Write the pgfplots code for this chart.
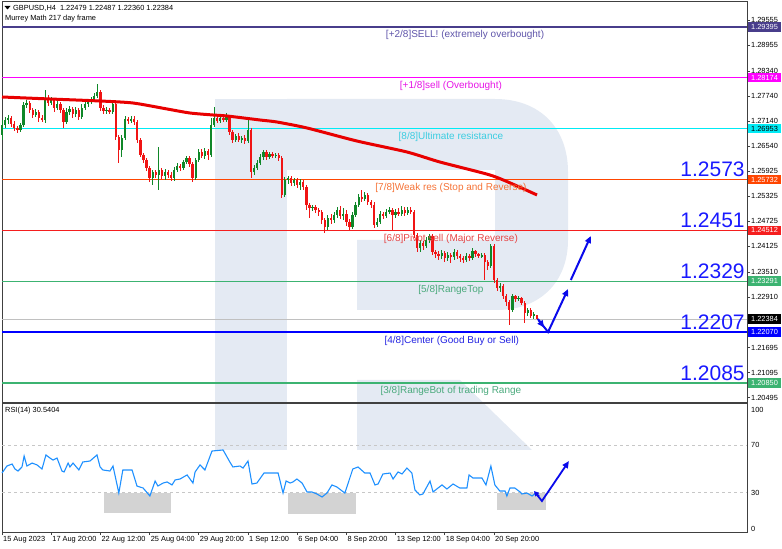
\documentclass[border=0pt]{standalone}
\usepackage{pgfplots}
\usepackage{pgfplotstable}
\pgfplotsset{compat=1.18}
\usepackage{fontspec}
\setmainfont{Liberation Sans}
\usetikzlibrary{arrows.meta}

\definecolor{wm}{RGB}{228,234,243}
\definecolor{bull}{RGB}{15,135,40}
\definecolor{bear}{RGB}{240,20,20}
\definecolor{ma}{RGB}{232,0,0}
\definecolor{mmA}{RGB}{72,61,139}
\definecolor{mmAt}{RGB}{95,85,170}
\definecolor{mmB}{RGB}{255,0,255}
\definecolor{mmBt}{RGB}{230,20,230}
\definecolor{mmC}{RGB}{0,235,245}
\definecolor{mmCt}{RGB}{60,205,225}
\definecolor{mmD}{RGB}{255,69,0}
\definecolor{mmDt}{RGB}{245,115,55}
\definecolor{mmE}{RGB}{245,30,30}
\definecolor{mmEt}{RGB}{230,70,70}
\definecolor{mmF}{RGB}{60,179,113}
\definecolor{mmFt}{RGB}{75,170,125}
\definecolor{mmG}{RGB}{0,0,255}
\definecolor{mmGt}{RGB}{35,35,225}
\definecolor{bigblue}{RGB}{25,25,255}
\definecolor{rsiblue}{RGB}{30,144,255}
\definecolor{zone}{RGB}{211,211,211}
\definecolor{arrowblue}{RGB}{10,10,235}
\definecolor{cur}{RGB}{192,192,192}

\newcommand{\fsmall}{\fontsize{7.4}{8.5}\selectfont}
\newcommand{\fmm}{\fontsize{10}{12}\selectfont}
\newcommand{\fbig}{\fontsize{21}{24}\selectfont}

\pgfplotstableread{
i o h l c
0 1.26800 1.27160 1.26680 1.27040
1 1.27040 1.27232 1.26968 1.27160
2 1.27160 1.27280 1.27064 1.27208
3 1.27208 1.27256 1.26992 1.27064
4 1.27064 1.27136 1.26896 1.26968
5 1.26968 1.27016 1.26848 1.26920
6 1.26920 1.27088 1.26872 1.27040
7 1.27040 1.27592 1.26992 1.27520
8 1.27520 1.27640 1.27448 1.27568
9 1.27568 1.27616 1.27328 1.27400
10 1.27400 1.27448 1.27208 1.27280
11 1.27280 1.27424 1.27232 1.27352
12 1.27352 1.27400 1.27112 1.27208
13 1.27208 1.27280 1.27112 1.27160
14 1.27160 1.27880 1.27088 1.27688
15 1.27688 1.27760 1.27496 1.27568
16 1.27568 1.27712 1.27520 1.27640
17 1.27640 1.27688 1.27352 1.27448
18 1.27448 1.27616 1.27400 1.27544
19 1.27544 1.27592 1.27328 1.27400
20 1.27400 1.27448 1.26968 1.27112
21 1.27112 1.27448 1.27064 1.27352
22 1.27352 1.27496 1.27280 1.27424
23 1.27424 1.27472 1.27208 1.27304
24 1.27304 1.27472 1.27232 1.27400
25 1.27400 1.27448 1.27160 1.27232
26 1.27232 1.27544 1.27184 1.27448
27 1.27448 1.27616 1.27400 1.27544
28 1.27544 1.27664 1.27472 1.27592
29 1.27592 1.27712 1.27544 1.27640
30 1.27640 1.27808 1.27592 1.27736
31 1.27736 1.28024 1.27688 1.27832
32 1.27832 1.27880 1.27376 1.27448
33 1.27448 1.27520 1.27304 1.27376
34 1.27376 1.27472 1.27304 1.27400
35 1.27400 1.27448 1.27304 1.27352
36 1.27352 1.27616 1.27304 1.27544
37 1.27544 1.27592 1.26680 1.26752
38 1.26752 1.26800 1.26128 1.26440
39 1.26440 1.26800 1.26272 1.26728
40 1.26728 1.27256 1.26680 1.27184
41 1.27184 1.27232 1.27064 1.27136
42 1.27136 1.27256 1.27088 1.27184
43 1.27184 1.27256 1.27040 1.27112
44 1.27112 1.27160 1.26608 1.26680
45 1.26680 1.26728 1.26272 1.26320
46 1.26320 1.26368 1.26128 1.26200
47 1.26200 1.26248 1.25936 1.26008
48 1.26008 1.26056 1.25672 1.25768
49 1.25768 1.25960 1.25600 1.25912
50 1.25912 1.25960 1.25768 1.25840
51 1.25840 1.26512 1.25480 1.25960
52 1.25960 1.26008 1.25744 1.25816
53 1.25816 1.25984 1.25720 1.25912
54 1.25912 1.25960 1.25768 1.25840
55 1.25840 1.25912 1.25696 1.25768
56 1.25768 1.26032 1.25696 1.25960
57 1.25960 1.26128 1.25912 1.26056
58 1.26056 1.26104 1.25936 1.26008
59 1.26008 1.26200 1.25960 1.26152
60 1.26152 1.26296 1.26104 1.26248
61 1.26248 1.26296 1.26032 1.26104
62 1.26104 1.26152 1.25672 1.25768
63 1.25768 1.26248 1.25720 1.26200
64 1.26200 1.26464 1.26152 1.26392
65 1.26392 1.26464 1.26248 1.26296
66 1.26296 1.26488 1.26224 1.26416
67 1.26416 1.26464 1.26200 1.26320
68 1.26320 1.27208 1.26272 1.27040
69 1.27040 1.27472 1.26992 1.27208
70 1.27208 1.27280 1.27088 1.27136
71 1.27136 1.27304 1.27088 1.27208
72 1.27208 1.27256 1.27112 1.27160
73 1.27160 1.27328 1.27112 1.27232
74 1.27232 1.27280 1.26800 1.26872
75 1.26872 1.26920 1.26608 1.26680
76 1.26680 1.26824 1.26632 1.26776
77 1.26776 1.26848 1.26632 1.26680
78 1.26680 1.26776 1.26608 1.26728
79 1.26728 1.26800 1.26584 1.26656
80 1.26656 1.27160 1.26608 1.26920
81 1.26920 1.26968 1.25768 1.25912
82 1.25912 1.26080 1.25840 1.26008
83 1.26008 1.26200 1.25960 1.26128
84 1.26128 1.26344 1.26080 1.26272
85 1.26272 1.26440 1.26200 1.26392
86 1.26392 1.26440 1.26200 1.26272
87 1.26272 1.26392 1.26224 1.26344
88 1.26344 1.26392 1.26248 1.26296
89 1.26296 1.26368 1.26248 1.26320
90 1.26320 1.26368 1.26176 1.26248
91 1.26248 1.26296 1.25288 1.25360
92 1.25360 1.25792 1.25312 1.25720
93 1.25720 1.25816 1.25624 1.25768
94 1.25768 1.25816 1.25576 1.25648
95 1.25648 1.25768 1.25576 1.25720
96 1.25720 1.25768 1.25528 1.25600
97 1.25600 1.25744 1.25480 1.25672
98 1.25672 1.25720 1.25480 1.25552
99 1.25552 1.25600 1.25000 1.25120
100 1.25120 1.25168 1.24808 1.25048
101 1.25048 1.25120 1.24976 1.25072
102 1.25072 1.25120 1.24928 1.25000
103 1.25000 1.25048 1.24856 1.24952
104 1.24952 1.25000 1.24664 1.24760
105 1.24760 1.24808 1.24448 1.24592
106 1.24592 1.24880 1.24520 1.24808
107 1.24808 1.24904 1.24664 1.24760
108 1.24760 1.24952 1.24688 1.24880
109 1.24880 1.25072 1.24808 1.25000
110 1.25000 1.25096 1.24784 1.24856
111 1.24856 1.25048 1.24760 1.24904
112 1.24904 1.25000 1.24616 1.24712
113 1.24712 1.24784 1.24520 1.24592
114 1.24592 1.24952 1.24544 1.24880
115 1.24880 1.25192 1.24832 1.25120
116 1.25120 1.25384 1.25072 1.25312
117 1.25312 1.25480 1.25192 1.25264
118 1.25264 1.25432 1.25216 1.25360
119 1.25360 1.25408 1.25120 1.25192
120 1.25192 1.25240 1.25048 1.25120
121 1.25120 1.25192 1.24568 1.24640
122 1.24640 1.24808 1.24592 1.24712
123 1.24712 1.24976 1.24664 1.24904
124 1.24904 1.24952 1.24784 1.24856
125 1.24856 1.25024 1.24808 1.24952
126 1.24952 1.25072 1.24904 1.25000
127 1.25000 1.25048 1.24520 1.24880
128 1.24880 1.25024 1.24808 1.24952
129 1.24952 1.25048 1.24856 1.24904
130 1.24904 1.25096 1.24856 1.25000
131 1.25000 1.25072 1.24856 1.24928
132 1.24928 1.25072 1.24880 1.25000
133 1.25000 1.25072 1.24904 1.24952
134 1.24952 1.25000 1.24328 1.24400
135 1.24400 1.24448 1.23992 1.24088
136 1.24088 1.24280 1.23992 1.24208
137 1.24208 1.24256 1.24040 1.24136
138 1.24136 1.24352 1.24088 1.24280
139 1.24280 1.24424 1.24208 1.24376
140 1.24376 1.24424 1.23920 1.23992
141 1.23992 1.24040 1.23848 1.23944
142 1.23944 1.24016 1.23800 1.23896
143 1.23896 1.24040 1.23824 1.23968
144 1.23968 1.24016 1.23752 1.23848
145 1.23848 1.23992 1.23776 1.23920
146 1.23920 1.23968 1.23728 1.23872
147 1.23872 1.24064 1.23800 1.23992
148 1.23992 1.24040 1.23824 1.23896
149 1.23896 1.23944 1.23752 1.23848
150 1.23848 1.23896 1.23728 1.23800
151 1.23800 1.23968 1.23752 1.23896
152 1.23896 1.23944 1.23776 1.23848
153 1.23848 1.24088 1.23800 1.24016
154 1.24016 1.24040 1.23872 1.23944
155 1.23944 1.23968 1.23848 1.23896
156 1.23896 1.23968 1.23848 1.23920
157 1.23920 1.23968 1.23320 1.23752
158 1.23752 1.23800 1.23560 1.23656
159 1.23656 1.24184 1.23608 1.24136
160 1.24136 1.24184 1.23248 1.23320
161 1.23320 1.23368 1.23056 1.23128
162 1.23128 1.23248 1.23032 1.23176
163 1.23176 1.23224 1.22864 1.22936
164 1.22936 1.22984 1.22696 1.22792
165 1.22792 1.22840 1.22240 1.22600
166 1.22600 1.22984 1.22552 1.22936
167 1.22936 1.22960 1.22792 1.22864
168 1.22864 1.22936 1.22816 1.22888
169 1.22888 1.22912 1.22720 1.22768
170 1.22768 1.22816 1.22288 1.22528
171 1.22528 1.22648 1.22456 1.22600
172 1.22600 1.22648 1.22408 1.22456
173 1.22456 1.22552 1.22384 1.22504
174 1.22479 1.22487 1.22360 1.22384
}\candles

\pgfplotstableread{
x ma
0 1.27712
15.6 1.27664
31.9 1.27616
42.6 1.27568
53.7 1.27424
61.1 1.27328
68.6 1.27280
73.2 1.27256
83.9 1.27160
89.4 1.27112
99.2 1.26968
115.4 1.26656
131.7 1.26392
142.4 1.26152
158.7 1.25840
166.8 1.25600
174.0 1.25360
}\matable

\pgfplotstableread{
x rsi
0 46.6
1.6 52.5
3.3 54.2
4.2 50.0
5.2 48.3
6.5 51.7
7.2 60.9
8.1 52.5
9.8 55.0
11.4 53.4
13.0 50.0
14.3 61.8
15.6 59.2
16.6 57.5
17.9 59.2
19.5 48.3
20.2 47.5
21.5 55.0
22.1 51.7
23.1 55.0
25.0 49.2
26.3 55.9
28.6 56.7
30.9 61.8
31.9 51.7
32.8 49.2
35.1 48.3
36.1 52.5
38.0 29.8
39.3 49.2
42.3 49.2
43.9 35.7
45.9 34.0
48.1 27.3
49.8 39.9
50.7 35.7
52.4 38.2
53.7 39.1
55.3 36.6
56.3 40.8
57.9 41.6
60.2 45.0
62.1 38.2
62.8 47.5
64.4 53.4
66.0 49.2
68.3 65.1
71.9 66.0
74.1 55.9
75.1 51.7
77.4 52.5
78.4 50.8
80.0 56.7
81.3 37.4
82.9 38.2
85.2 46.6
89.8 46.6
91.4 29.8
92.4 39.9
93.7 38.2
94.6 39.1
95.9 41.6
97.6 38.2
99.2 30.7
100.8 30.7
102.4 29.0
104.1 26.5
105.7 29.8
107.3 36.6
108.9 34.9
111.5 29.8
114.1 50.0
115.8 51.7
118.0 46.6
119.7 46.6
121.3 36.6
122.3 37.4
123.9 45.8
126.2 46.6
127.2 41.6
128.8 47.5
130.1 45.8
131.7 50.8
133.3 46.6
134.3 32.4
135.9 28.2
136.9 29.0
139.2 39.9
140.2 30.7
141.8 34.0
143.1 36.6
144.7 33.2
146.7 37.4
148.9 34.0
151.2 34.0
151.9 45.0
153.2 42.4
156.1 42.4
157.4 36.6
159.0 52.5
160.3 36.6
161.9 31.5
163.6 31.5
164.2 27.3
165.2 34.0
166.8 34.0
168.5 30.7
169.1 29.0
170.7 29.8
172.4 27.3
174.0 30.5
}\rsitable

\begin{document}
\begin{tikzpicture}[x=1pt,y=1pt]
\path[use as bounding box] (0pt,0pt) rectangle (782pt,549pt);
% background watermark (pixel coordinates, y downwards)
\begin{scope}[shift={(0pt,549pt)}, yscale=-1]
\fill[wm] (215,99) rectangle (287,450);
\fill[wm] (287,99) -- (495,99) .. controls (540,99) and (568,128) .. (568,172)
  -- (568,240) .. controls (568,282) and (540,310) .. (497,310)
  -- (357,310) -- (357,240) -- (495,240) -- (495,170) -- (287,170) -- cycle;
\fill[wm] (357,380) -- (460,380) -- (532,450) -- (357,450) -- cycle;
\end{scope}

% ---------------- main price panel ----------------
\begin{axis}[
  at={(2pt,147pt)}, anchor=south west,
  scale only axis, width=745pt, height=401pt,
  xmin=0, xmax=242.3, ymin=1.20392, ymax=1.30016,
  clip=false,
  axis line style={draw=black!75, line width=0.8pt},
  xtick=\empty,
  ytick={1.29555,1.28955,1.28340,1.27740,1.27140,1.26540,1.25925,1.25325,1.24725,1.24125,1.23510,1.22910,1.21695,1.21095,1.20495},
  yticklabels={1.29555,1.28955,1.28340,1.27740,1.27140,1.26540,1.25925,1.25325,1.24725,1.24125,1.23510,1.22910,1.21695,1.21095,1.20495},
  ytick pos=right, yticklabel pos=right,
  tick align=outside, major tick length=3pt,
  tick style={black!75, line width=0.6pt},
  yticklabel style={font=\fsmall, inner sep=1pt, text=black},
  scaled y ticks=false,
]
% Murrey lines
\addplot[draw=mmA, line width=1.3pt] coordinates {(0,1.29395) (242.3,1.29395)};
\addplot[draw=mmB, line width=1.3pt] coordinates {(0,1.28174) (242.3,1.28174)};
\addplot[draw=mmC, line width=1.5pt] coordinates {(0,1.26953) (242.3,1.26953)};
\addplot[draw=mmD, line width=1.4pt] coordinates {(0,1.25732) (242.3,1.25732)};
\addplot[draw=mmE, line width=1.6pt] coordinates {(0,1.24512) (242.3,1.24512)};
\addplot[draw=mmF, line width=1.4pt] coordinates {(0,1.23291) (242.3,1.23291)};
\addplot[draw=cur, line width=0.8pt] coordinates {(0,1.22384) (242.3,1.22384)};
\addplot[draw=mmG, line width=1.9pt] coordinates {(0,1.22070) (242.3,1.22070)};
\addplot[draw=mmF, line width=1.4pt] coordinates {(0,1.20850) (242.3,1.20850)};

% candles: wicks
\addplot[draw=none, mark=none, forget plot,
  restrict expr to domain={\thisrow{c}-\thisrow{o}}{0:1},
  error bars/.cd, y dir=both, y explicit, error mark=none,
  error bar style={draw=bull, line width=0.9pt}]
  table[x=i, y expr={(\thisrow{h}+\thisrow{l})/2}, y error expr={(\thisrow{h}-\thisrow{l})/2}] {\candles};
\addplot[draw=none, mark=none, forget plot,
  restrict expr to domain={\thisrow{o}-\thisrow{c}}{0.000001:1},
  error bars/.cd, y dir=both, y explicit, error mark=none,
  error bar style={draw=bear, line width=0.9pt}]
  table[x=i, y expr={(\thisrow{h}+\thisrow{l})/2}, y error expr={(\thisrow{h}-\thisrow{l})/2}] {\candles};
% candles: bodies
\addplot[draw=none, mark=none, forget plot,
  restrict expr to domain={\thisrow{c}-\thisrow{o}}{0:1},
  error bars/.cd, y dir=both, y explicit, error mark=none,
  error bar style={draw=bull, line width=2.3pt}]
  table[x=i, y expr={(\thisrow{o}+\thisrow{c})/2}, y error expr={abs(\thisrow{c}-\thisrow{o})/2+0.00005}] {\candles};
\addplot[draw=none, mark=none, forget plot,
  restrict expr to domain={\thisrow{o}-\thisrow{c}}{0.000001:1},
  error bars/.cd, y dir=both, y explicit, error mark=none,
  error bar style={draw=bear, line width=2.3pt}]
  table[x=i, y expr={(\thisrow{o}+\thisrow{c})/2}, y error expr={abs(\thisrow{c}-\thisrow{o})/2+0.00005}] {\candles};

% moving average
\addplot[draw=ma, line width=3pt, smooth, tension=0.4] table[x=x, y=ma] {\matable};

% blue arrows
\addplot[draw=arrowblue, fill=arrowblue, line width=2pt, -{Triangle[length=7pt,width=6pt]}] coordinates {(174.3,1.22384) (176.3,1.22180)};
\addplot[draw=arrowblue, line width=2pt, -{Triangle[length=7pt,width=6pt,fill=arrowblue]}] coordinates {(174.6,1.22350) (177.6,1.22072) (184.1,1.23104)};
\addplot[draw=arrowblue, line width=2pt, -{Triangle[length=7pt,width=6pt,fill=arrowblue]}] coordinates {(185.0,1.23320) (191.5,1.24376)};

% Murrey texts
\node[mmAt, font=\fmm, anchor=north, yshift=-2.5pt, inner sep=1pt] at (axis cs:150.6,1.29395) {[+2/8]SELL! (extremely overbought)};
\node[mmBt, font=\fmm, anchor=north, yshift=-2.5pt, inner sep=1pt] at (axis cs:146.0,1.28174) {[+1/8]sell (Overbought)};
\node[mmCt, font=\fmm, anchor=north, yshift=-2.5pt, inner sep=1pt] at (axis cs:146.0,1.26953) {[8/8]Ultimate resistance};
\node[mmDt, font=\fmm, anchor=north, yshift=-2.5pt, inner sep=1pt] at (axis cs:146.0,1.25732) {[7/8]Weak res (Stop and Reverse)};
\node[mmEt, font=\fmm, anchor=north, yshift=-2.5pt, inner sep=1pt] at (axis cs:146.0,1.24512) {[6/8]Pivot sell (Major Reverse)};
\node[mmFt, font=\fmm, anchor=north, yshift=-2.5pt, inner sep=1pt] at (axis cs:146.0,1.23291) {[5/8]RangeTop};
\node[mmGt, font=\fmm, anchor=north, yshift=-2.5pt, inner sep=1pt] at (axis cs:146.3,1.22070) {[4/8]Center (Good Buy or Sell)};
\node[mmFt, font=\fmm, anchor=north, yshift=-2.5pt, inner sep=1pt] at (axis cs:146.0,1.20850) {[3/8]RangeBot of trading Range};

% big blue level labels
\node[bigblue, font=\fbig, anchor=base east, inner sep=0pt, yshift=2.5pt] at (axis cs:241.6,1.25732) {1.2573};
\node[bigblue, font=\fbig, anchor=base east, inner sep=0pt, yshift=2.5pt] at (axis cs:241.6,1.24512) {1.2451};
\node[bigblue, font=\fbig, anchor=base east, inner sep=0pt, yshift=2.5pt] at (axis cs:241.6,1.23291) {1.2329};
\node[bigblue, font=\fbig, anchor=base east, inner sep=0pt, yshift=2.5pt] at (axis cs:241.6,1.22070) {1.2207};
\node[bigblue, font=\fbig, anchor=base east, inner sep=0pt, yshift=2.5pt] at (axis cs:241.6,1.20850) {1.2085};

% right price boxes
\tikzset{pbox/.style={font=\fsmall, anchor=west, inner sep=1pt, minimum height=9.5pt, minimum width=33pt, xshift=0.8pt}}
\node[pbox, fill=mmA, text=white] at (axis cs:242.3,1.29395) {1.29395};
\node[pbox, fill=mmB, text=white] at (axis cs:242.3,1.28174) {1.28174};
\node[pbox, fill=mmC, text=black] at (axis cs:242.3,1.26953) {1.26953};
\node[pbox, fill=mmD, text=white] at (axis cs:242.3,1.25732) {1.25732};
\node[pbox, fill=mmE, text=white] at (axis cs:242.3,1.24512) {1.24512};
\node[pbox, fill=mmF, text=white] at (axis cs:242.3,1.23291) {1.23291};
\node[pbox, fill=black, text=white] at (axis cs:242.3,1.22384) {1.22384};
\node[pbox, fill=mmG, text=white] at (axis cs:242.3,1.22070) {1.22070};
\node[pbox, fill=mmF, text=white] at (axis cs:242.3,1.20850) {1.20850};
\end{axis}

% ---------------- RSI panel ----------------
\begin{axis}[
  at={(2pt,17pt)}, anchor=south west,
  scale only axis, width=745pt, height=129pt,
  xmin=0, xmax=242.3, ymin=-2.94, ymax=105.46,
  clip=false,
  axis line style={draw=black!75, line width=0.8pt},
  xtick={0,16,32,48,64,80,96,112,128,144,160},
  xticklabels={15 Aug 2023,17 Aug 20:00,22 Aug 12:00,25 Aug 04:00,29 Aug 20:00,1 Sep 12:00,6 Sep 04:00,8 Sep 20:00,13 Sep 12:00,18 Sep 04:00,20 Sep 20:00},
  xtick pos=left,
  ytick={0,30,70,100}, yticklabels={0,30,70,100},
  ytick pos=right, yticklabel pos=right,
  tick align=outside, major tick length=3pt,
  xtick style={black!75, line width=0.6pt},
  ytick style={draw=none},
  xticklabel style={anchor=north west, font=\fsmall, inner sep=1pt, text=black},
  yticklabel style={font=\fsmall, inner sep=1pt, text=black},
]
\addplot[fill=zone, draw=none] coordinates {(33.2,30) (55.0,30) (55.0,13.0) (33.2,13.0)} -- cycle;
\addplot[fill=zone, draw=none] coordinates {(93.0,30) (115.1,30) (115.1,12.2) (93.0,12.2)} -- cycle;
\addplot[fill=zone, draw=none] coordinates {(161.0,30) (176.9,30) (176.9,15.5) (161.0,15.5)} -- cycle;
\addplot[draw=black!22, line width=0.7pt, dash pattern=on 3pt off 3pt] coordinates {(0,70) (242.3,70)};
\addplot[draw=black!22, line width=0.7pt, dash pattern=on 3pt off 3pt] coordinates {(0,30) (242.3,30)};
\addplot[draw=rsiblue, line width=1.1pt] table[x=x, y=rsi] {\rsitable};
\addplot[draw=arrowblue, line width=1.8pt, {Triangle[length=5pt,width=5pt,fill=arrowblue]}-] coordinates {(173.0,31.5) (174.6,27.0)};
\addplot[draw=arrowblue, line width=1.8pt, -{Triangle[length=7pt,width=6pt,fill=arrowblue]}] coordinates {(173.4,30.2) (175.6,23.1) (184.4,56.7)};
\end{axis}

% header texts (pixel coordinates)
\begin{scope}[shift={(0pt,549pt)}, yscale=-1]
\fill[black] (4.5,6) -- (10.5,6) -- (7.5,9.5) -- cycle;
\node[anchor=west, font=\fsmall, inner sep=0pt] at (13,8) {GBPUSD,H4\ \ 1.22479 1.22487 1.22360 1.22384};
\node[anchor=west, font=\fsmall, inner sep=0pt] at (5,18.5) {Murrey Math 217 day frame};
\node[anchor=west, font=\fsmall, inner sep=0pt] at (5,410.5) {RSI(14) 30.5404};
\end{scope}
\end{tikzpicture}
\end{document}
